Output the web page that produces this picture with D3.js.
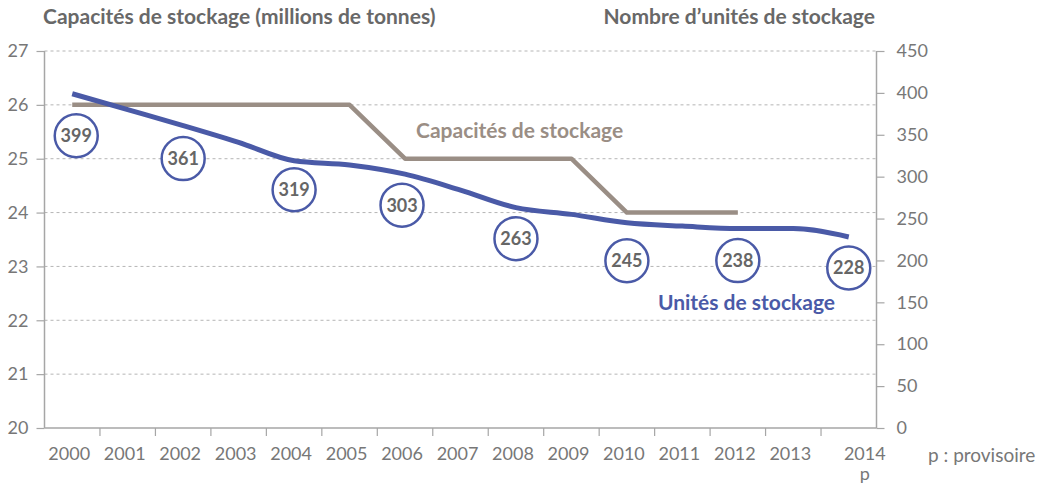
<!DOCTYPE html>
<html>
<head>
<meta charset="utf-8">
<script src="https://cdn.jsdelivr.net/npm/d3@7"></script>
<style>
  body { margin: 0; background: #fff; }
  svg { display: block; }
  text { font-family: "Lato", "Noto Sans", sans-serif; }
</style>
</head>
<body>
<svg id="chart" width="1057" height="490"></svg>
<script>
// Years on the horizontal axis (2014 is provisional)
const years = ["2000","2001","2002","2003","2004","2005","2006","2007",
               "2008","2009","2010","2011","2012","2013","2014"];

// Storage capacity, millions of tonnes (left axis); no figure after 2012
const capacity = [26, 26, 26, 26, 26, 26, 25, 25, 25, 25, 24, 24, 24, null, null];

// Number of storage units (right axis)
const units = [399, 380, 361, 341, 319, 314, 303, 284, 263, 255, 245, 241, 238, 238, 228];

// Years whose unit count is printed in a badge
const badgeYears = ["2000","2002","2004","2006","2008","2010","2012","2014"];

// Axis ticks
const leftTicks = [20, 21, 22, 23, 24, 25, 26, 27];
const rightTicks = [0, 50, 100, 150, 200, 250, 300, 350, 400, 450];

const blue = "#4a5aa7";
const taupe = "#9a8e85";
const axisGrey = "#a6a6a6";
const tickText = "#777777";
const titleGrey = "#686868";

const svg = d3.select("#chart");

const plot = { left: 44.5, right: 876.5, top: 51, bottom: 428 };

const x = d3.scaleBand().domain(years).range([plot.left, plot.right]).padding(0);
const yL = d3.scaleLinear().domain([20, 27]).range([plot.bottom, plot.top]);
const yR = d3.scaleLinear().domain([0, 450]).range([plot.bottom, plot.top]);
const cx = d => x(d) + x.bandwidth() / 2;

// Dashed horizontal gridlines on the left-axis values
svg.append("g")
  .selectAll("line")
  .data(leftTicks.filter(t => t > 20))
  .join("line")
  .attr("x1", plot.left).attr("x2", plot.right)
  .attr("y1", d => yL(d)).attr("y2", d => yL(d))
  .attr("stroke", "#b5b5b5").attr("stroke-width", 1)
  .attr("stroke-dasharray", "3,3");

const tickStyle = sel => sel.attr("fill", tickText).style("font-size", "18px").style("font-weight", 400);

// Left axis
const gL = svg.append("g")
  .attr("transform", `translate(${plot.left},0)`)
  .call(d3.axisLeft(yL).tickValues(leftTicks).tickSize(8).tickPadding(8).tickFormat(d3.format("d")));
gL.select(".domain").remove();
gL.append("line").attr("x1", 0).attr("x2", 0).attr("y1", plot.top).attr("y2", plot.bottom)
  .attr("stroke", axisGrey).attr("stroke-width", 1.5);
gL.selectAll(".tick line").attr("stroke", axisGrey).attr("stroke-width", 1.2);
gL.selectAll(".tick text").call(tickStyle);

// Right axis
const gR = svg.append("g")
  .attr("transform", `translate(${plot.right},0)`)
  .call(d3.axisRight(yR).tickValues(rightTicks).tickSize(8).tickPadding(12).tickFormat(d3.format("d")));
gR.select(".domain").remove();
gR.append("line").attr("x1", 0).attr("x2", 0).attr("y1", plot.top).attr("y2", plot.bottom)
  .attr("stroke", axisGrey).attr("stroke-width", 1.5);
gR.selectAll(".tick line").attr("stroke", axisGrey).attr("stroke-width", 1.2);
gR.selectAll(".tick text").call(tickStyle).attr("text-anchor", "start");

// Bottom axis: labels centred on each year, ticks between years
const gB = svg.append("g")
  .attr("transform", `translate(0,${plot.bottom})`)
  .call(d3.axisBottom(x).tickSize(0).tickPadding(19));
gB.select(".domain").remove();
gB.append("line").attr("x1", plot.left).attr("x2", plot.right).attr("y1", 0).attr("y2", 0)
  .attr("stroke", axisGrey).attr("stroke-width", 1.5);
gB.selectAll(".tick text").call(tickStyle).attr("dx", "-3");
gB.append("g").selectAll("line")
  .data(years.slice(1))
  .join("line")
  .attr("x1", d => x(d)).attr("x2", d => x(d))
  .attr("y1", 0).attr("y2", 8)
  .attr("stroke", axisGrey).attr("stroke-width", 1.2);

// Provisional year label on two lines
const lastTick = gB.selectAll(".tick").filter(d => d === "2014").select("text");
lastTick.text(null).attr("dx", null);
lastTick.append("tspan").attr("x", 16).text("2014");
lastTick.append("tspan").attr("x", 16).attr("dy", "1.15em").text("p");

svg.append("text")
  .attr("x", 928).attr("y", plot.bottom + 34)
  .call(tickStyle).style("font-size", "19px")
  .text("p : provisoire");

// Capacity line
const capLine = d3.line()
  .defined(d => d.v != null)
  .x(d => cx(d.year)).y(d => yL(d.v));
svg.append("path")
  .datum(years.map((year, i) => ({ year, v: capacity[i] })))
  .attr("d", capLine)
  .attr("fill", "none").attr("stroke", taupe).attr("stroke-width", 4.5)
  .attr("stroke-linejoin", "round");

// Units line
const unitLine = d3.line()
  .curve(d3.curveMonotoneX)
  .x(d => cx(d.year)).y(d => yR(d.v));
svg.append("path")
  .datum(years.map((year, i) => ({ year, v: units[i] })))
  .attr("d", unitLine)
  .attr("fill", "none").attr("stroke", blue).attr("stroke-width", 5)
  .attr("stroke-linejoin", "round");

// Badges under the units line
const badgeShift = { "2000": [4, 42], "2002": [0, 33], "2004": [0, 29], "2006": [-3, 31],
                     "2008": [0, 31], "2010": [0, 38], "2012": [0, 32], "2014": [0, 31] };
const badges = svg.append("g").selectAll("g")
  .data(badgeYears.map(year => ({ year, v: units[years.indexOf(year)] })))
  .join("g")
  .attr("transform", d => `translate(${cx(d.year) + badgeShift[d.year][0]},${yR(d.v) + badgeShift[d.year][1]})`);
badges.append("circle").attr("r", 21.5)
  .attr("fill", "#fff").attr("stroke", blue).attr("stroke-width", 2.5);
badges.append("text")
  .attr("text-anchor", "middle").attr("dy", "0.36em")
  .attr("fill", "#666666").style("font-size", "18px").style("font-weight", 700)
  .text(d => d.v);

// Series names
svg.append("text").attr("x", 416).attr("y", 138)
  .attr("fill", taupe).style("font-size", "21px").style("font-weight", 700)
  .text("Capacités de stockage");
svg.append("text").attr("x", 835).attr("y", 310).attr("text-anchor", "end")
  .attr("fill", blue).style("font-size", "21px").style("font-weight", 700)
  .text("Unités de stockage");

// Axis titles
svg.append("text").attr("x", 43).attr("y", 24)
  .attr("fill", titleGrey).style("font-size", "21px").style("font-weight", 700)
  .text("Capacités de stockage (millions de tonnes)");
svg.append("text").attr("x", 875).attr("y", 24).attr("text-anchor", "end")
  .attr("fill", titleGrey).style("font-size", "21px").style("font-weight", 700)
  .text("Nombre d’unités de stockage");
</script>
</body>
</html>
